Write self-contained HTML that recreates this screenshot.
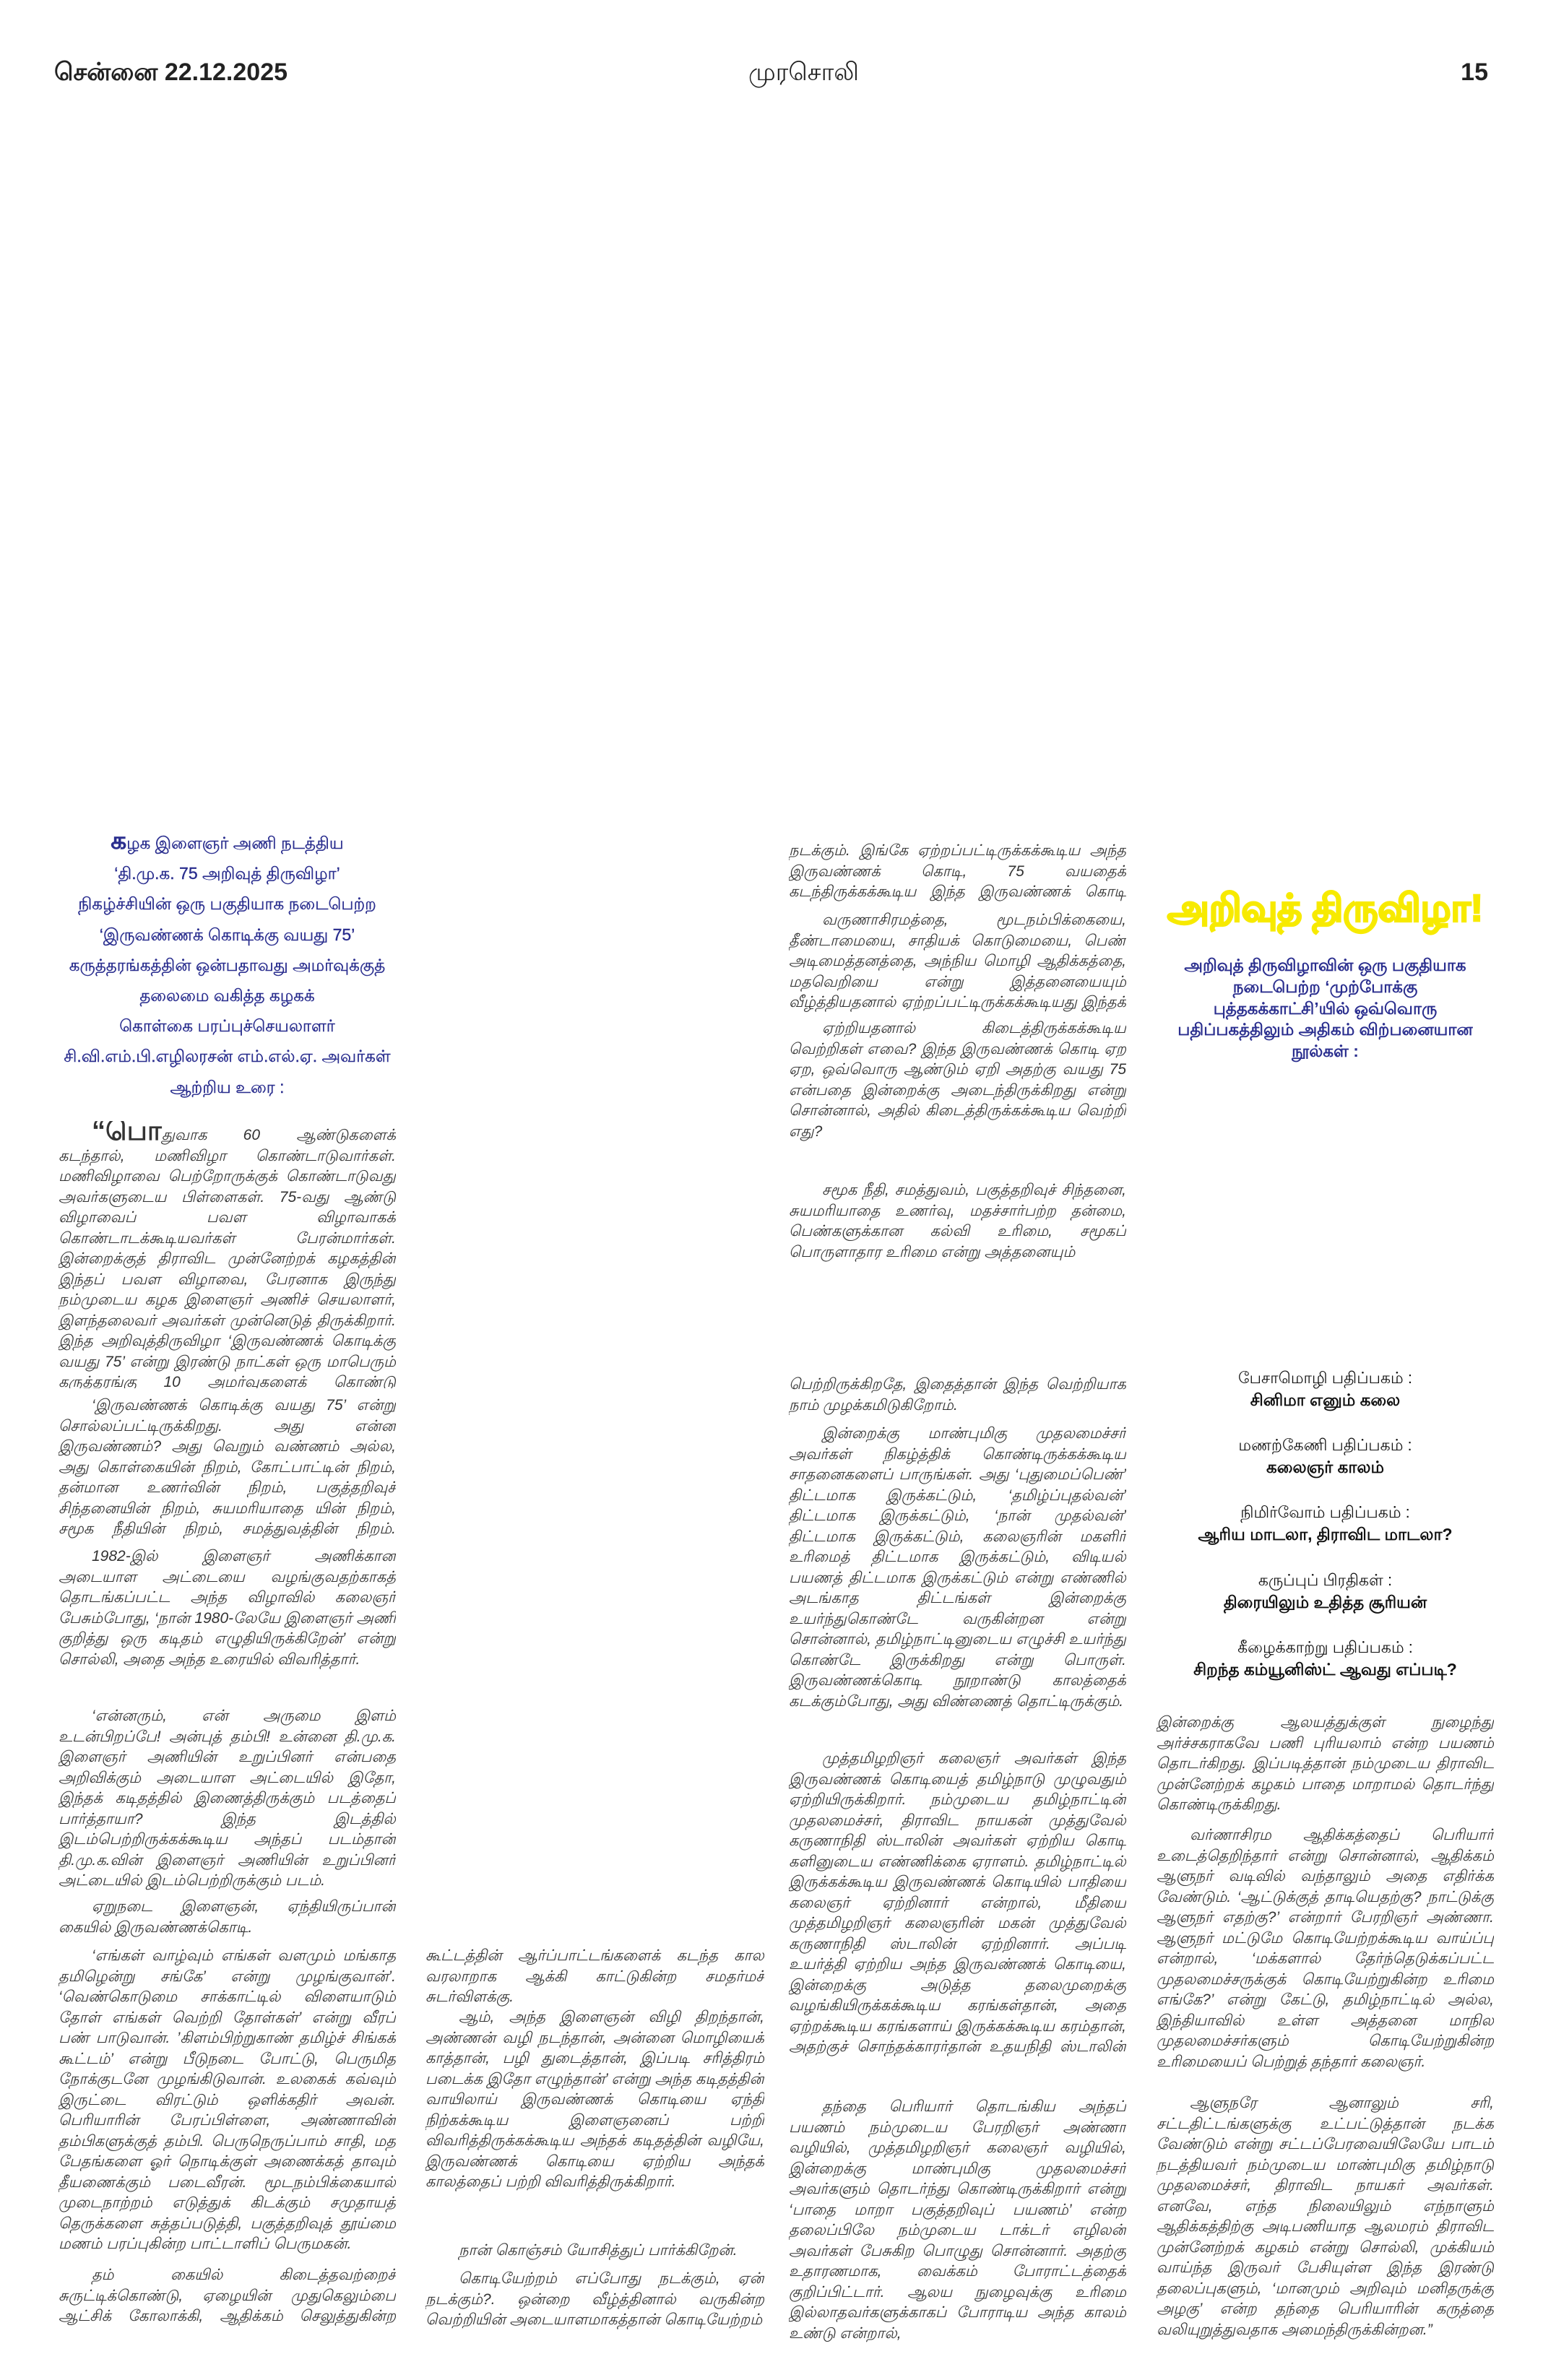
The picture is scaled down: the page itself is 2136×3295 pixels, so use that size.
<!DOCTYPE html>
<html><head><meta charset="utf-8">
<style>
html,body{margin:0;padding:0;background:#fff;}
body{width:2136px;height:3295px;position:relative;overflow:hidden;font-family:"Liberation Sans","Noto Sans CJK SC",sans-serif;}
.hd{position:absolute;top:78px;font-size:34px;font-weight:bold;color:#222;line-height:44px;}
.p{position:absolute;font-size:21px;line-height:28.5px;color:#333;text-align:justify;overflow:hidden;font-style:italic;}
.c1{left:81px;width:467px;}
.c2{left:589px;width:469px;}
.c3{left:1092px;width:467px;}
.c4{left:1601px;width:467px;}
.in{text-indent:46px;}
.head{position:absolute;left:41px;width:547px;text-align:center;color:#2b2f8f;font-size:23px;line-height:42.2px;white-space:nowrap;-webkit-text-stroke:0.4px #2b2f8f;}
.blue{position:absolute;left:1601px;width:467px;text-align:center;color:#2b2f8f;font-size:23px;font-weight:bold;line-height:29.8px;}
.bk{position:absolute;left:1601px;width:467px;text-align:center;color:#111;font-size:22px;line-height:30px;}
.bk b{font-size:23px;}
</style></head><body>

<div class="hd" style="left:75px;">சென்னை 22.12.2025</div>
<div class="hd" style="left:1004px;width:217px;text-align:center;font-weight:normal;">முரசொலி</div>
<div class="hd" style="left:2010px;width:50px;text-align:right;">15</div>

<div class="head" style="top:1143px;">
<span style="font-size:34px;font-weight:bold;">க</span>ழக இளைஞர் அணி நடத்திய<br>
‘தி.மு.க. 75 அறிவுத் திருவிழா’<br>
நிகழ்ச்சியின் ஒரு பகுதியாக நடைபெற்ற<br>
‘இருவண்ணக் கொடிக்கு வயது 75’<br>
கருத்தரங்கத்தின் ஒன்பதாவது அமர்வுக்குத்<br>
தலைமை வகித்த கழகக்<br>
கொள்கை பரப்புச்செயலாளர்<br>
சி.வி.எம்.பி.எழிலரசன் எம்.எல்.ஏ. அவர்கள்<br>
ஆற்றிய உரை :
</div>

<div class="p c1 in" style="top:1552px;height:370px;"><span style="font-size:38px;font-weight:bold;font-style:normal;">“பொ</span>துவாக 60 ஆண்டுகளைக் கடந்தால், மணிவிழா கொண்டாடுவார்கள். மணிவிழாவை பெற்றோருக்குக் கொண்டாடுவது அவர்களுடைய பிள்ளைகள். 75-வது ஆண்டு விழாவைப் பவள விழாவாகக் கொண்டாடக்கூடியவர்கள் பேரன்மார்கள். இன்றைக்குத் திராவிட முன்னேற்றக் கழகத்தின் இந்தப் பவள விழாவை, பேரனாக இருந்து நம்முடைய கழக இளைஞர் அணிச் செயலாளர், இளந்தலைவர் அவர்கள் முன்னெடுத் திருக்கிறார். இந்த அறிவுத்திருவிழா ‘இருவண்ணக் கொடிக்கு வயது 75’ என்று இரண்டு நாட்கள் ஒரு மாபெரும் கருத்தரங்கு 10 அமர்வுகளைக் கொண்டு நடத்தப்படுகிறது.</div>

<div class="p c1 in" style="top:1932px;height:200px;">‘இருவண்ணக் கொடிக்கு வயது 75’ என்று சொல்லப்பட்டிருக்கிறது. அது என்ன இருவண்ணம்? அது வெறும் வண்ணம் அல்ல, அது கொள்கையின் நிறம், கோட்பாட்டின் நிறம், தன்மான உணர்வின் நிறம், பகுத்தறிவுச் சிந்தனையின் நிறம், சுயமரியாதை யின் நிறம், சமூக நீதியின் நிறம், சமத்துவத்தின் நிறம். மொத்தத்தில் திராவிடத்தின் நிறம்.</div>

<div class="p c1 in" style="top:2141px;height:200px;">1982-இல் இளைஞர் அணிக்கான அடையாள அட்டையை வழங்குவதற்காகத் தொடங்கப்பட்ட அந்த விழாவில் கலைஞர் பேசும்போது, ‘நான் 1980-லேயே இளைஞர் அணி குறித்து ஒரு கடிதம் எழுதியிருக்கிறேன்’ என்று சொல்லி, அதை அந்த உரையில் விவரித்தார்.</div>

<div class="p c1 in" style="top:2362px;height:285px;">‘என்னரும், என் அருமை இளம் உடன்பிறப்பே! அன்புத் தம்பி! உன்னை தி.மு.க. இளைஞர் அணியின் உறுப்பினர் என்பதை அறிவிக்கும் அடையாள அட்டையில் இதோ, இந்தக் கடிதத்தில் இணைத்திருக்கும் படத்தைப் பார்த்தாயா? இந்த இடத்தில் இடம்பெற்றிருக்கக்கூடிய அந்தப் படம்தான் தி.மு.க.வின் இளைஞர் அணியின் உறுப்பினர் அட்டையில் இடம்பெற்றிருக்கும் படம்.</div>

<div class="p c1 in" style="top:2626px;height:57px;">ஏறுநடை இளைஞன், ஏந்தியிருப்பான் கையில் இருவண்ணக்கொடி.</div>

<div class="p c1 in" style="top:2694px;height:428px;">‘எங்கள் வாழ்வும் எங்கள் வளமும் மங்காத தமிழென்று சங்கே’ என்று முழங்குவான்’. ‘வெண்கொடுமை சாக்காட்டில் விளையாடும் தோள் எங்கள் வெற்றி தோள்கள்’ என்று வீரப் பண் பாடுவான். ’கிளம்பிற்றுகாண் தமிழ்ச் சிங்கக் கூட்டம்’ என்று பீடுநடை போட்டு, பெருமித நோக்குடனே முழங்கிடுவான். உலகைக் கவ்வும் இருட்டை விரட்டும் ஒளிக்கதிர் அவன். பெரியாரின் பேரப்பிள்ளை, அண்ணாவின் தம்பிகளுக்குத் தம்பி. பெருநெருப்பாம் சாதி, மத பேதங்களை ஓர் நொடிக்குள் அணைக்கத் தாவும் தீயணைக்கும் படைவீரன். மூடநம்பிக்கையால் முடைநாற்றம் எடுத்துக் கிடக்கும் சமுதாயத் தெருக்களை சுத்தப்படுத்தி, பகுத்தறிவுத் தூய்மை மணம் பரப்புகின்ற பாட்டாளிப் பெருமகன்.</div>

<div class="p c1 in" style="top:3136px;height:86px;">தம் கையில் கிடைத்தவற்றைச் சுருட்டிக்கொண்டு, ஏழையின் முதுகெலும்பை ஆட்சிக் கோலாக்கி, ஆதிக்கம் செலுத்துகின்ற முதலாளித்துவக்</div>

<div class="p c2" style="top:2694px;height:86px;">கூட்டத்தின் ஆர்ப்பாட்டங்களைக் கடந்த கால வரலாறாக ஆக்கி காட்டுகின்ற சமதர்மச் சுடர்விளக்கு.</div>

<div class="p c2 in" style="top:2779px;height:257px;">ஆம், அந்த இளைஞன் விழி திறந்தான், அண்ணன் வழி நடந்தான், அன்னை மொழியைக் காத்தான், பழி துடைத்தான், இப்படி சரித்திரம் படைக்க இதோ எழுந்தான்’ என்று அந்த கடிதத்தின் வாயிலாய் இருவண்ணக் கொடியை ஏந்தி நிற்கக்கூடிய இளைஞனைப் பற்றி விவரித்திருக்கக்கூடிய அந்தக் கடிதத்தின் வழியே, இருவண்ணக் கொடியை ஏற்றிய அந்தக் காலத்தைப் பற்றி விவரித்திருக்கிறார்.</div>

<div class="p c2 in" style="top:3102px;height:29px;">நான் கொஞ்சம் யோசித்துப் பார்க்கிறேன்.</div>

<div class="p c2 in" style="top:3141px;height:86px;">கொடியேற்றம் எப்போது நடக்கும், ஏன் நடக்கும்?. ஒன்றை வீழ்த்தினால் வருகின்ற வெற்றியின் அடையாளமாகத்தான் கொடியேற்றம்</div>

<div class="p c3" style="top:1164px;height:86px;">நடக்கும். இங்கே ஏற்றப்பட்டிருக்கக்கூடிய அந்த இருவண்ணக் கொடி, 75 வயதைக் கடந்திருக்கக்கூடிய இந்த இருவண்ணக் கொடி எதை வீழ்த்தியது?</div>

<div class="p c3 in" style="top:1260px;height:143px;">வருணாசிரமத்தை, மூடநம்பிக்கையை, தீண்டாமையை, சாதியக் கொடுமையை, பெண் அடிமைத்தனத்தை, அந்நிய மொழி ஆதிக்கத்தை, மதவெறியை என்று இத்தனையையும் வீழ்த்தியதனால் ஏற்றப்பட்டிருக்கக்கூடியது இந்தக் கொடி.</div>

<div class="p c3 in" style="top:1410px;height:171px;">ஏற்றியதனால் கிடைத்திருக்கக்கூடிய வெற்றிகள் எவை? இந்த இருவண்ணக் கொடி ஏற ஏற, ஒவ்வொரு ஆண்டும் ஏறி அதற்கு வயது 75 என்பதை இன்றைக்கு அடைந்திருக்கிறது என்று சொன்னால், அதில் கிடைத்திருக்கக்கூடிய வெற்றி எது?</div>

<div class="p c3 in" style="top:1634px;height:114px;">சமூக நீதி, சமத்துவம், பகுத்தறிவுச் சிந்தனை, சுயமரியாதை உணர்வு, மதச்சார்பற்ற தன்மை, பெண்களுக்கான கல்வி உரிமை, சமூகப் பொருளாதார உரிமை என்று அத்தனையும்</div>

<div class="p c3" style="top:1903px;height:57px;">பெற்றிருக்கிறதே, இதைத்தான் இந்த வெற்றியாக நாம் முழக்கமிடுகிறோம்.</div>

<div class="p c3 in" style="top:1971px;height:399px;">இன்றைக்கு மாண்புமிகு முதலமைச்சர் அவர்கள் நிகழ்த்திக் கொண்டிருக்கக்கூடிய சாதனைகளைப் பாருங்கள். அது ‘புதுமைப்பெண்’ திட்டமாக இருக்கட்டும், ‘தமிழ்ப்புதல்வன்’ திட்டமாக இருக்கட்டும், ‘நான் முதல்வன்’ திட்டமாக இருக்கட்டும், கலைஞரின் மகளிர் உரிமைத் திட்டமாக இருக்கட்டும், விடியல் பயணத் திட்டமாக இருக்கட்டும் என்று எண்ணில் அடங்காத திட்டங்கள் இன்றைக்கு உயர்ந்துகொண்டே வருகின்றன என்று சொன்னால், தமிழ்நாட்டினுடைய எழுச்சி உயர்ந்து கொண்டே இருக்கிறது என்று பொருள். இருவண்ணக்கொடி நூறாண்டு காலத்தைக் கடக்கும்போது, அது விண்ணைத் தொட்டிருக்கும்.</div>

<div class="p c3 in" style="top:2421px;height:428px;">முத்தமிழறிஞர் கலைஞர் அவர்கள் இந்த இருவண்ணக் கொடியைத் தமிழ்நாடு முழுவதும் ஏற்றியிருக்கிறார். நம்முடைய தமிழ்நாட்டின் முதலமைச்சர், திராவிட நாயகன் முத்துவேல் கருணாநிதி ஸ்டாலின் அவர்கள் ஏற்றிய கொடி களினுடைய எண்ணிக்கை ஏராளம். தமிழ்நாட்டில் இருக்கக்கூடிய இருவண்ணக் கொடியில் பாதியை கலைஞர் ஏற்றினார் என்றால், மீதியை முத்தமிழறிஞர் கலைஞரின் மகன் முத்துவேல் கருணாநிதி ஸ்டாலின் ஏற்றினார். அப்படி உயர்த்தி ஏற்றிய அந்த இருவண்ணக் கொடியை, இன்றைக்கு அடுத்த தலைமுறைக்கு வழங்கியிருக்கக்கூடிய கரங்கள்தான், அதை ஏற்றக்கூடிய கரங்களாய் இருக்கக்கூடிய கரம்தான், அதற்குச் சொந்தக்காரர்தான் உதயநிதி ஸ்டாலின் என்ற இளந்தலைவர்.</div>

<div class="p c3 in" style="top:2903px;height:342px;">தந்தை பெரியார் தொடங்கிய அந்தப் பயணம் நம்முடைய பேரறிஞர் அண்ணா வழியில், முத்தமிழறிஞர் கலைஞர் வழியில், இன்றைக்கு மாண்புமிகு முதலமைச்சர் அவர்களும் தொடர்ந்து கொண்டிருக்கிறார் என்று ‘பாதை மாறா பகுத்தறிவுப் பயணம்’ என்ற தலைப்பிலே நம்முடைய டாக்டர் எழிலன் அவர்கள் பேசுகிற பொழுது சொன்னார். அதற்கு உதாரணமாக, வைக்கம் போராட்டத்தைக் குறிப்பிட்டார். ஆலய நுழைவுக்கு உரிமை இல்லாதவர்களுக்காகப் போராடிய அந்த காலம் உண்டு என்றால்,</div>

<div style="position:absolute;left:1561px;width:547px;top:1226px;text-align:center;color:#f7ea00;font-size:52px;font-weight:bold;line-height:64px;-webkit-text-stroke:2.5px #f7ea00;white-space:nowrap;">அறிவுத் திருவிழா!</div>

<div class="blue" style="top:1322px;">அறிவுத் திருவிழாவின் ஒரு பகுதியாக<br>நடைபெற்ற ‘முற்போக்கு<br>புத்தகக்காட்சி’யில் ஒவ்வொரு<br>பதிப்பகத்திலும் அதிகம் விற்பனையான<br>நூல்கள் :</div>

<div class="bk" style="top:1893px;">பேசாமொழி பதிப்பகம் :<br><b>சினிமா எனும் கலை</b></div>
<div class="bk" style="top:1986px;">மணற்கேணி பதிப்பகம் :<br><b>கலைஞர் காலம்</b></div>
<div class="bk" style="top:2079px;">நிமிர்வோம் பதிப்பகம் :<br><b>ஆரிய மாடலா, திராவிட மாடலா?</b></div>
<div class="bk" style="top:2173px;">கருப்புப் பிரதிகள் :<br><b>திரையிலும் உதித்த சூரியன்</b></div>
<div class="bk" style="top:2266px;">கீழைக்காற்று பதிப்பகம் :<br><b>சிறந்த கம்யூனிஸ்ட் ஆவது எப்படி?</b></div>

<div class="p c4" style="top:2371px;height:143px;">இன்றைக்கு ஆலயத்துக்குள் நுழைந்து அர்ச்சகராகவே பணி புரியலாம் என்ற பயணம் தொடர்கிறது. இப்படித்தான் நம்முடைய திராவிட முன்னேற்றக் கழகம் பாதை மாறாமல் தொடர்ந்து கொண்டிருக்கிறது.</div>

<div class="p c4 in" style="top:2527px;height:342px;">வர்ணாசிரம ஆதிக்கத்தைப் பெரியார் உடைத்தெறிந்தார் என்று சொன்னால், ஆதிக்கம் ஆளுநர் வடிவில் வந்தாலும் அதை எதிர்க்க வேண்டும். ‘ஆட்டுக்குத் தாடியெதற்கு? நாட்டுக்கு ஆளுநர் எதற்கு?’ என்றார் பேரறிஞர் அண்ணா. ஆளுநர் மட்டுமே கொடியேற்றக்கூடிய வாய்ப்பு என்றால், ‘மக்களால் தேர்ந்தெடுக்கப்பட்ட முதலமைச்சருக்குக் கொடியேற்றுகின்ற உரிமை எங்கே?’ என்று கேட்டு, தமிழ்நாட்டில் அல்ல, இந்தியாவில் உள்ள அத்தனை மாநில முதலமைச்சர்களும் கொடியேற்றுகின்ற உரிமையைப் பெற்றுத் தந்தார் கலைஞர்.</div>

<div class="p c4 in" style="top:2898px;height:342px;">ஆளுநரே ஆனாலும் சரி, சட்டதிட்டங்களுக்கு உட்பட்டுத்தான் நடக்க வேண்டும் என்று சட்டப்பேரவையிலேயே பாடம் நடத்தியவர் நம்முடைய மாண்புமிகு தமிழ்நாடு முதலமைச்சர், திராவிட நாயகர் அவர்கள். எனவே, எந்த நிலையிலும் எந்நாளும் ஆதிக்கத்திற்கு அடிபணியாத ஆலமரம் திராவிட முன்னேற்றக் கழகம் என்று சொல்லி, முக்கியம் வாய்ந்த இருவர் பேசியுள்ள இந்த இரண்டு தலைப்புகளும், ‘மானமும் அறிவும் மனிதருக்கு அழகு’ என்ற தந்தை பெரியாரின் கருத்தை வலியுறுத்துவதாக அமைந்திருக்கின்றன.”</div>

</body></html>
